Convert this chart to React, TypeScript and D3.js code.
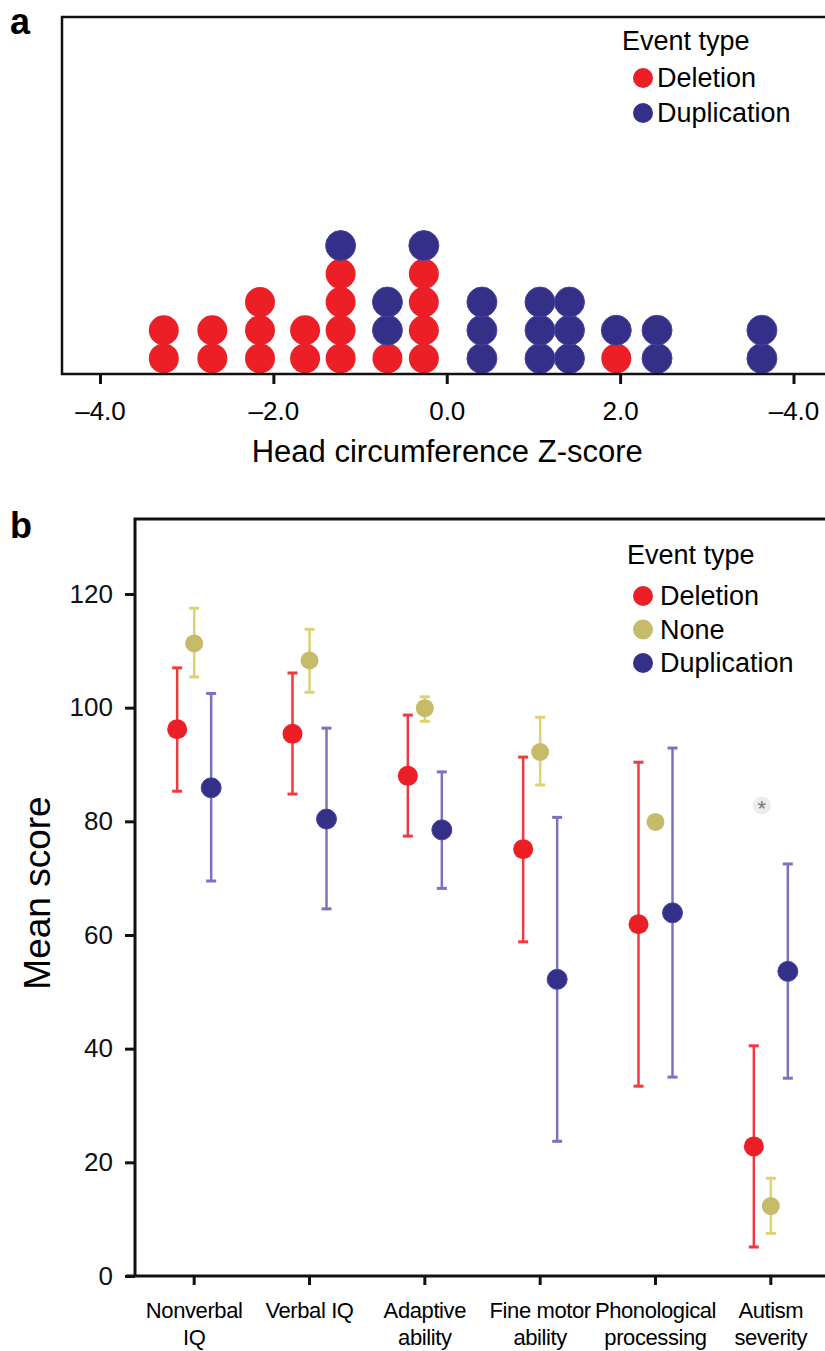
import React, { useEffect, useRef } from "react";
import * as d3 from "d3";

// ---- panel a: head circumference dot plot ----
const zBins = [-3.27, -2.71, -2.16, -1.64, -1.23, -0.69, -0.27, 0.4, 1.07, 1.41, 1.95, 2.42, 3.63];
const zDeletion = [2, 2, 3, 2, 4, 1, 4, 0, 0, 0, 1, 0, 0];
const zDuplication = [0, 0, 0, 0, 1, 2, 1, 3, 3, 3, 1, 2, 2];
const zTicks = [-4, -2, 0, 2, 4];
const zTickLabels = ["\u20134.0", "\u20132.0", "0.0", "2.0", "\u20134.0"];

// ---- panel b: mean scores with error bars ----
const categories = ["Nonverbal IQ", "Verbal IQ", "Adaptive ability", "Fine motor ability", "Phonological processing", "Autism severity"];
const categoryLines = [["Nonverbal", "IQ"], ["Verbal IQ"], ["Adaptive", "ability"], ["Fine motor", "ability"], ["Phonological", "processing"], ["Autism", "severity"]];

const deletionMean = [96.2, 95.4, 88.0, 75.1, 61.9, 22.8];
const deletionLow = [85.3, 84.8, 77.4, 58.8, 33.4, 5.1];
const deletionHigh = [107.0, 106.1, 98.7, 91.3, 90.4, 40.5];

const noneMean = [111.3, 108.3, 99.9, 92.2, 79.9, 12.3];
const noneLow = [105.4, 102.7, 97.6, 86.4, null, 7.5];
const noneHigh = [117.5, 113.8, 101.9, 98.3, null, 17.2];

const duplicationMean = [85.9, 80.4, 78.5, 52.2, 63.9, 53.6];
const duplicationLow = [69.5, 64.6, 68.2, 23.7, 35.0, 34.8];
const duplicationHigh = [102.5, 96.4, 88.7, 80.7, 92.9, 72.5];

const outlierCategory = "Autism severity";
const outlierValue = 82.8;
const yTicks = [0, 20, 40, 60, 80, 100, 120];

const FONT = "'Liberation Sans', Arial, Helvetica, sans-serif";
const RED = "#ec1f26";
const RED_BAR = "#f03a3f";
const OLIVE = "#c6bb69";
const OLIVE_BAR = "#dcd374";
const NAVY = "#342f87";
const NAVY_BAR = "#7a73c0";

const App = () => {
  const ref = useRef<SVGSVGElement | null>(null);

  useEffect(() => {
    drawGraph();
  });

  const drawGraph = () => {
    const svg = d3.select(ref.current);
    svg.selectAll("*").remove();
    svg.style("font-family", FONT);

    // ================= panel a =================
    const ax = d3.scaleLinear().domain([-4, 4]).range([100.5, 794]);
    const ay = d3.scaleLinear().domain([0, 12.65]).range([374, 17]);
    const aLeft = 62, aTop = 17, aBottom = 374, right = 830;

    svg.append("text").attr("x", 10).attr("y", 34)
      .attr("font-size", 36).attr("font-weight", "bold").text("a");

    const dots: { x: number; i: number; type: string }[] = [];
    zBins.forEach((z, k) => {
      let i = 0;
      for (let n = 0; n < zDeletion[k]; n++) dots.push({ x: z, i: i++, type: "Deletion" });
      for (let n = 0; n < zDuplication[k]; n++) dots.push({ x: z, i: i++, type: "Duplication" });
    });

    svg.append("g").selectAll("circle")
      .data(dots)
      .join("circle")
        .attr("cx", d => ax(d.x))
        .attr("cy", d => ay(d.i + 0.55))
        .attr("r", 15)
        .attr("fill", d => (d.type === "Deletion" ? RED : NAVY))
        .attr("stroke", d => (d.type === "Deletion" ? "none" : "#4a44a6"))
        .attr("stroke-width", 1);

    // frame
    svg.append("path")
      .attr("d", `M${right},${aTop}H${aLeft}V${aBottom}H${right}`)
      .attr("fill", "none").attr("stroke", "#111").attr("stroke-width", 2.5);

    svg.append("g").selectAll("line")
      .data(zTicks)
      .join("line")
        .attr("x1", d => ax(d)).attr("x2", d => ax(d))
        .attr("y1", aBottom).attr("y2", aBottom + 10)
        .attr("stroke", "#111").attr("stroke-width", 3);

    svg.append("g").selectAll("text")
      .data(zTicks)
      .join("text")
        .attr("x", d => ax(d))
        .attr("y", 420)
        .attr("text-anchor", "middle")
        .attr("font-size", 26)
        .text((d, k) => zTickLabels[k]);

    svg.append("text").attr("x", ax(0)).attr("y", 462)
      .attr("text-anchor", "middle").attr("font-size", 31)
      .text("Head circumference Z-score");

    // legend a
    const legA = svg.append("g");
    legA.append("text").attr("x", 622).attr("y", 50).attr("font-size", 27).text("Event type");
    [["Deletion", RED], ["Duplication", NAVY]].forEach(([name, col], k) => {
      const cy = 78 + k * 35;
      legA.append("circle").attr("cx", 643).attr("cy", cy).attr("r", 10).attr("fill", col);
      legA.append("text").attr("x", 657).attr("y", cy + 9).attr("font-size", 27).text(name);
    });

    // ================= panel b =================
    const bx = d3.scaleBand().domain(categories).range([136.5, 828.5]);
    const by = d3.scaleLinear().domain([0, 120]).range([1276, 594]);
    const bLeft = 135, bTop = by(133.2), bBottom = by(0);
    const centre = (c: string) => (bx(c) as number) + bx.bandwidth() / 2;

    svg.append("text").attr("x", 10).attr("y", 538)
      .attr("font-size", 36).attr("font-weight", "bold").text("b");

    // y axis ticks + labels
    const yAxis = svg.append("g")
      .attr("transform", `translate(${bLeft},0)`)
      .call(d3.axisLeft(by).tickValues(yTicks).tickSize(10).tickPadding(12).tickSizeOuter(0));
    yAxis.select(".domain").remove();
    yAxis.selectAll("line").attr("stroke", "#111").attr("stroke-width", 3);
    yAxis.selectAll("text").attr("font-size", 26).attr("font-family", FONT).attr("fill", "#111");

    svg.append("text")
      .attr("transform", `translate(50,893) rotate(-90)`)
      .attr("text-anchor", "middle").attr("font-size", 37)
      .text("Mean score");

    // frame
    svg.append("path")
      .attr("d", `M${right},${bTop}H${bLeft}V${bBottom}`)
      .attr("fill", "none").attr("stroke", "#111").attr("stroke-width", 3);
    svg.append("line")
      .attr("x1", 126).attr("x2", right).attr("y1", bBottom).attr("y2", bBottom)
      .attr("stroke", "#111").attr("stroke-width", 3);

    // x ticks + labels
    svg.append("g").selectAll("line")
      .data(categories)
      .join("line")
        .attr("x1", d => centre(d)).attr("x2", d => centre(d))
        .attr("y1", bBottom).attr("y2", bBottom + 9)
        .attr("stroke", "#111").attr("stroke-width", 3);

    const xl = svg.append("g").selectAll("text")
      .data(categories)
      .join("text")
        .attr("text-anchor", "middle")
        .attr("font-size", 22)
        .attr("letter-spacing", -0.4);
    xl.each(function (d, k) {
      categoryLines[k].forEach((line, j) => {
        d3.select(this).append("tspan")
          .attr("x", centre(d))
          .attr("y", 1318 + j * 27)
          .text(line);
      });
    });

    const series = [
      { name: "Deletion", mean: deletionMean, low: deletionLow, high: deletionHigh, dot: RED, bar: RED_BAR, off: -17, r: 10 },
      { name: "None", mean: noneMean, low: noneLow, high: noneHigh, dot: OLIVE, bar: OLIVE_BAR, off: 0, r: 9 },
      { name: "Duplication", mean: duplicationMean, low: duplicationLow, high: duplicationHigh, dot: NAVY, bar: NAVY_BAR, off: 17, r: 10 },
    ];

    series.forEach(s => {
      const g = svg.append("g");
      const rows = categories.map((c, k) => ({
        x: centre(c) + s.off, mean: s.mean[k], low: s.low[k], high: s.high[k],
      }));
      const withBars = rows.filter(d => d.low != null && d.high != null);

      g.selectAll("line.bar")
        .data(withBars)
        .join("line")
          .attr("class", "bar")
          .attr("x1", d => d.x).attr("x2", d => d.x)
          .attr("y1", d => by(d.low as number)).attr("y2", d => by(d.high as number))
          .attr("stroke", s.bar).attr("stroke-width", 2.5);

      ["low", "high"].forEach(key => {
        g.selectAll(`line.cap-${key}`)
          .data(withBars)
          .join("line")
            .attr("class", `cap-${key}`)
            .attr("x1", d => d.x - 5).attr("x2", d => d.x + 5)
            .attr("y1", d => by((d as any)[key])).attr("y2", d => by((d as any)[key]))
            .attr("stroke", s.bar).attr("stroke-width", 3);
      });

      g.selectAll("circle")
        .data(rows)
        .join("circle")
          .attr("cx", d => d.x).attr("cy", d => by(d.mean))
          .attr("r", s.r)
          .attr("fill", s.dot)
          .attr("stroke", s.name === "Duplication" ? "#4a44a6" : "none");
    });

    // outlier marker
    const ox = centre(outlierCategory) - 9;
    svg.append("circle").attr("cx", ox).attr("cy", by(outlierValue)).attr("r", 9).attr("fill", "#ececec");
    svg.append("text").attr("x", ox).attr("y", by(outlierValue) + 11)
      .attr("text-anchor", "middle").attr("font-size", 22).attr("fill", "#777").text("*");

    // legend b
    const legB = svg.append("g");
    legB.append("text").attr("x", 627).attr("y", 564).attr("font-size", 27).text("Event type");
    series.forEach((s, k) => {
      const cy = 596 + k * 33.5;
      legB.append("circle").attr("cx", 643).attr("cy", cy).attr("r", 10).attr("fill", s.dot);
      legB.append("text").attr("x", 660).attr("y", cy + 9).attr("font-size", 27).text(s.name);
    });
  };

  return (
    <svg
      ref={ref}
      width={825}
      height={1351}
      style={{ position: "absolute", left: 0, top: 0, display: "block", background: "#fff" }}
    />
  );
};

export default App;
